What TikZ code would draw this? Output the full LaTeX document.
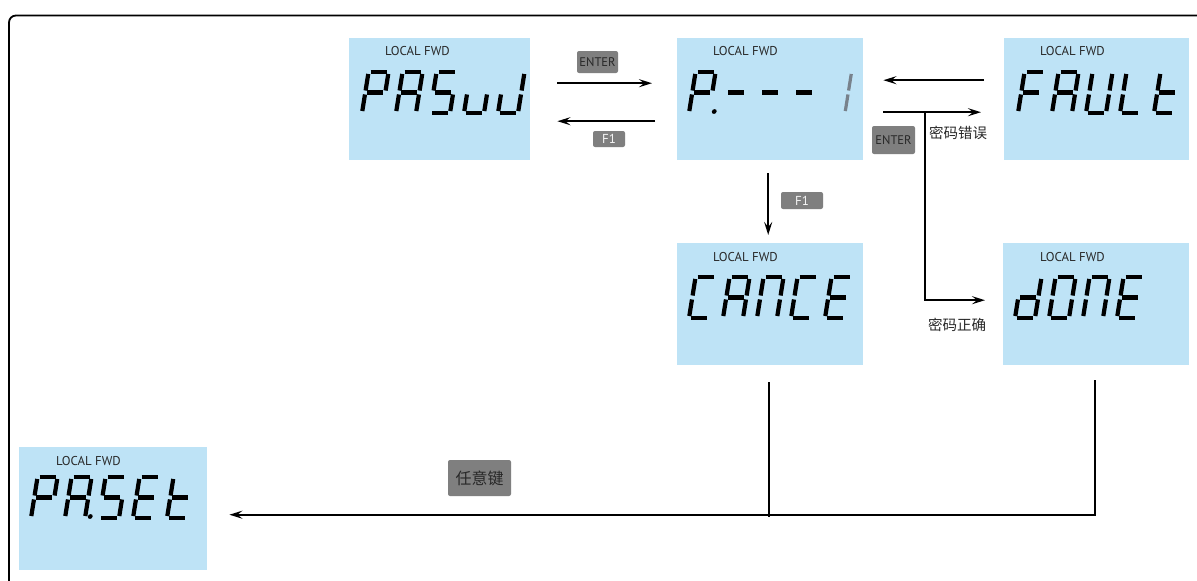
\documentclass[tikz,border=0pt]{standalone}
\usepackage{fontspec}
\setmainfont{PT Sans}
\newfontfamily\cjk{Noto Sans CJK SC}
\usetikzlibrary{arrows.meta}
\definecolor{lcdblue}{RGB}{190,227,246}
\definecolor{keygray}{RGB}{127,127,127}
\definecolor{txtdark}{RGB}{40,40,40}
\definecolor{onegray}{RGB}{120,130,140}
\tikzset{
  lcdbox/.style={draw=none, fill=lcdblue, anchor=north west, inner sep=0pt},
  lcdlabel/.style={anchor=west, font=\fontsize{12.8}{12.8}\selectfont, text=txtdark, inner sep=0pt},
  seg/.style={line width=4.2pt, line cap=butt, shorten <=2pt, shorten >=2pt},
  key/.style={fill=keygray, rounded corners=2pt, inner sep=0pt},
  conn/.style={line width=2pt, draw=black},
  arr/.style={conn, -{Stealth[length=13pt,width=8pt,inset=5pt]}},
  cnlabel/.style={font=\cjk\fontsize{14.5}{14.5}\selectfont, text=txtdark, inner sep=0pt},
}
% seven-segment pieces (local coordinates, origin = bottom left)
\expandafter\def\csname lcdsega\endcsname{\draw[seg] (0,41)--(20,41);}
\expandafter\def\csname lcdsegb\endcsname{\draw[seg] (20,41)--(20,20.5);}
\expandafter\def\csname lcdsegc\endcsname{\draw[seg] (20,20.5)--(20,0);}
\expandafter\def\csname lcdsegd\endcsname{\draw[seg] (0,0)--(20,0);}
\expandafter\def\csname lcdsege\endcsname{\draw[seg] (0,0)--(0,20.5);}
\expandafter\def\csname lcdsegf\endcsname{\draw[seg] (0,20.5)--(0,41);}
\expandafter\def\csname lcdsegg\endcsname{\draw[seg] (0,20.5)--(20,20.5);}
\expandafter\def\csname lcdsegB\endcsname{\draw[seg, draw=onegray, line width=3.2pt] (20,41)--(20,20.5);}
\expandafter\def\csname lcdsegC\endcsname{\draw[seg, draw=onegray, line width=3.2pt] (20,20.5)--(20,0);}
\expandafter\def\csname lcdsegp\endcsname{\fill (25,1.5) circle (2.4);}
\newcommand{\lcdword}[2]{%
  \foreach \gl [count=\gi from 0] in {#2}{%
    \begin{scope}[shift={(#1)}, xshift=34*\gi, xslant=0.16]
      \foreach \sg in \gl {\csname lcdseg\sg\endcsname}
    \end{scope}}}
\begin{document}
\begin{tikzpicture}[x=1pt, y=1pt]
\useasboundingbox (0,0) rectangle (1197,-581);
\fill[white] (0,0) rectangle (1197,-581);
% frame
\draw[line width=1.8pt, rounded corners=7pt] (9,-590) -- (9,-15.5) -- (1205,-15.5);

% LCD boxes
\node[lcdbox, minimum width=181pt, minimum height=122pt] (pasw) at (349,-38) {};
\node[lcdbox, minimum width=186pt, minimum height=122pt] (pin) at (677,-38) {};
\node[lcdbox, minimum width=185pt, minimum height=122pt] (fault) at (1004,-38) {};
\node[lcdbox, minimum width=186pt, minimum height=122pt] (cance) at (677,-243) {};
\node[lcdbox, minimum width=186pt, minimum height=122pt] (done) at (1003,-243) {};
\node[lcdbox, minimum width=188pt, minimum height=123pt] (paset) at (19,-447) {};

% LOCAL FWD labels
\node[lcdlabel] (lpasw) at ([xshift=36pt,yshift=-13pt]pasw.north west) {LOCAL FWD};
\node[lcdlabel] (lpin) at ([xshift=36pt,yshift=-13pt]pin.north west) {LOCAL FWD};
\node[lcdlabel] (lfault) at ([xshift=36pt,yshift=-13pt]fault.north west) {LOCAL FWD};
\node[lcdlabel] (lcance) at ([xshift=36pt,yshift=-14pt]cance.north west) {LOCAL FWD};
\node[lcdlabel] (ldone) at ([xshift=37pt,yshift=-14pt]done.north west) {LOCAL FWD};
\node[lcdlabel] (lpaset) at ([xshift=37pt,yshift=-14pt]paset.north west) {LOCAL FWD};

% seven-segment words
\lcdword{362,-113}{{a,b,e,f,g},{a,b,c,e,f,g},{a,c,d,f,g},{c,d,e},{b,c,d,e}}
\lcdword{689,-113}{{a,b,e,f,g,p},{g},{g},{g},{B,C}}
\lcdword{1018,-113}{{a,e,f,g},{a,b,c,e,f,g},{b,c,d,e,f},{d,e,f},{d,e,f,g}}
\lcdword{689,-318}{{a,d,e,f},{a,b,c,e,f,g},{a,b,c,e,f},{a,d,e,f},{a,d,e,f,g}}
\lcdword{1015,-318}{{b,c,d,e,g},{a,b,c,d,e,f},{a,b,c,e,f},{a,d,e,f,g}}
\lcdword{31,-518}{{a,b,e,f,g},{a,b,c,e,f,g,p},{a,c,d,f,g},{a,d,e,f,g},{d,e,f,g}}

% key labels
\node[key, minimum width=41pt, minimum height=22pt, text=txtdark, font=\fontsize{12.5}{12.5}\selectfont] (kenter1) at (597.5,-62) {ENTER};
\node[key, minimum width=32pt, minimum height=16pt, text=white!92!gray, font=\fontsize{13}{13}\selectfont] (kf1a) at (609,-139) {F1};
\node[key, minimum width=43pt, minimum height=28pt, text=txtdark, font=\fontsize{12.5}{12.5}\selectfont] (kenter2) at (893.5,-140) {ENTER};
\node[key, minimum width=42pt, minimum height=17pt, text=white!92!gray, font=\fontsize{13}{13}\selectfont] (kf1b) at (802,-200.5) {F1};
\node[key, minimum width=63pt, minimum height=36pt, text=txtdark, font=\cjk\fontsize{16}{16}\selectfont] (kany) at (479.5,-478) {任意键};

% chinese labels
\node[cnlabel] (lerr) at (958,-133) {密码错误};
\node[cnlabel] (lok) at (957,-325) {密码正确};

% connectors
\draw[arr] ([xshift=27pt,yshift=16pt]pasw.east) -- ([xshift=-25pt,yshift=16pt]pin.west);
\draw[arr] ([xshift=-22pt,yshift=-22pt]pin.west) -- ([xshift=27pt,yshift=-22pt]pasw.east);
\draw[arr] ([xshift=-20pt,yshift=19pt]fault.west) -- ([xshift=20pt,yshift=19pt]pin.east);
\draw[arr] ([xshift=20pt,yshift=-13pt]pin.east) -- ([xshift=-23pt,yshift=-13pt]fault.west);
\coordinate (br) at (925,-112);
\draw[arr] (br) |- ([xshift=-18pt,yshift=4pt]done.west);
\draw[arr] ([xshift=-2pt,yshift=-13pt]pin.south) -- ([xshift=-2pt,yshift=8pt]cance.north);
\coordinate (j1) at (1094,-514.5);
\draw[conn] ([xshift=-1pt,yshift=-17pt]cance.south) -- ([xshift=-1pt,yshift=-2pt]cance.south |- j1);
\draw[arr] ([xshift=-1.5pt,yshift=-15pt]done.south) |- ([xshift=22pt,yshift=-6pt]paset.east);
\end{tikzpicture}
\end{document}
